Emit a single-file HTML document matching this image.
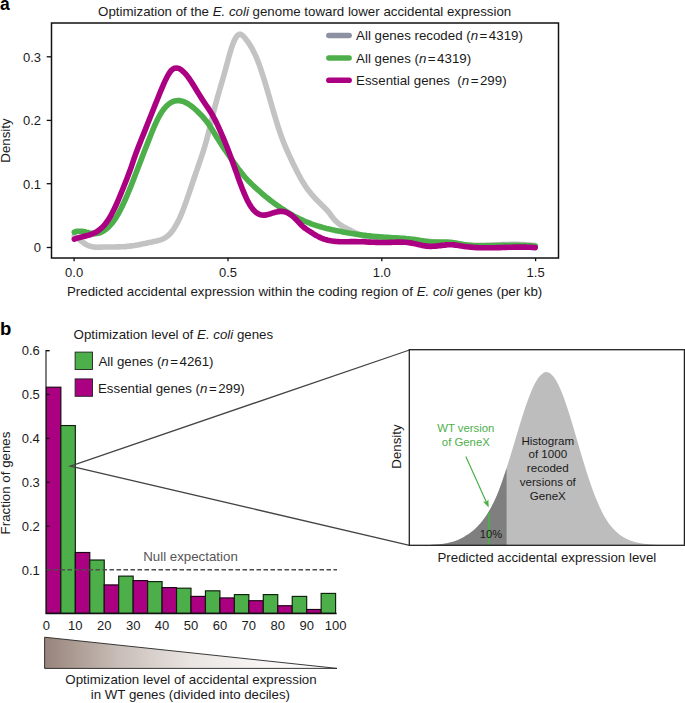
<!DOCTYPE html>
<html><head><meta charset="utf-8"><title>Figure</title>
<style>html,body{margin:0;padding:0;background:#fff;}body{width:685px;height:703px;position:relative;overflow:hidden;font-family:"Liberation Sans",sans-serif;}</style>
</head><body>
<svg width="685" height="703" viewBox="0 0 685 703" style="display:block;position:absolute;left:0;top:0">
<rect x="0" y="0" width="685" height="703" fill="#fff"/>
<g font-family="'Liberation Sans', sans-serif" font-size="13.3" fill="#1a1a1a">
<text x="0" y="9.7" font-size="17.5" font-weight="bold" fill="#000">a</text>
<text x="98.1" y="15.7">Optimization of the <tspan font-style="italic">E. coli</tspan> genome toward lower accidental expression</text>
<g fill="none" stroke-linecap="round" stroke-linejoin="round" stroke-width="5.6">
<path d="M74.3,236.0 L75.8,236.9 L77.3,238.0 L78.8,239.1 L80.3,240.3 L81.8,241.5 L83.3,242.6 L84.8,243.6 L86.3,244.6 L87.8,245.4 L89.3,246.0 L90.8,246.4 L92.3,246.8 L93.8,247.0 L95.3,247.1 L96.8,247.2 L98.3,247.2 L99.8,247.1 L101.3,247.1 L102.8,247.0 L104.3,247.0 L105.8,247.0 L107.3,247.0 L108.8,247.0 L110.3,247.0 L111.8,247.0 L113.3,247.0 L114.8,247.0 L116.3,246.9 L117.8,246.9 L119.3,246.9 L120.8,246.8 L122.3,246.8 L123.8,246.7 L125.3,246.6 L126.8,246.4 L128.3,246.3 L129.8,246.1 L131.3,245.9 L132.8,245.7 L134.3,245.5 L135.8,245.2 L137.3,245.0 L138.8,244.7 L140.3,244.4 L141.8,244.1 L143.3,243.8 L144.8,243.5 L146.3,243.2 L147.8,242.8 L149.3,242.5 L150.8,242.2 L152.3,241.9 L153.8,241.5 L155.3,241.2 L156.8,240.9 L158.3,240.5 L159.8,240.1 L161.3,239.6 L162.8,239.0 L164.3,238.2 L165.8,237.3 L167.3,236.2 L168.8,234.9 L170.3,233.4 L171.8,231.7 L173.3,229.6 L174.8,227.3 L176.3,224.8 L177.8,221.9 L179.3,218.9 L180.8,215.5 L182.3,211.9 L183.8,208.0 L185.3,203.9 L186.8,199.7 L188.3,195.4 L189.8,190.9 L191.3,186.5 L192.8,182.0 L194.3,177.5 L195.8,173.2 L197.3,168.8 L198.8,164.5 L200.3,160.2 L201.8,155.7 L203.3,151.1 L204.8,146.2 L206.3,141.1 L207.8,135.6 L209.3,129.8 L210.8,123.7 L212.3,117.4 L213.8,111.2 L215.3,105.3 L216.8,99.8 L218.3,94.4 L219.8,89.2 L221.3,84.1 L222.8,79.0 L224.3,73.7 L225.8,68.3 L227.3,62.7 L228.8,57.1 L230.3,51.8 L231.8,47.0 L233.3,42.9 L234.8,39.5 L236.3,36.9 L237.8,35.1 L239.3,34.3 L240.8,34.4 L242.3,35.3 L243.8,36.7 L245.3,38.5 L246.8,40.4 L248.3,42.4 L249.8,44.7 L251.3,47.2 L252.8,49.9 L254.3,52.9 L255.8,56.1 L257.3,59.7 L258.8,63.6 L260.3,67.8 L261.8,72.3 L263.3,76.9 L264.8,81.8 L266.3,86.8 L267.8,91.9 L269.3,97.0 L270.8,102.2 L272.3,107.5 L273.8,112.6 L275.3,117.7 L276.8,122.6 L278.3,127.4 L279.8,131.9 L281.3,136.2 L282.8,140.2 L284.3,144.0 L285.8,147.6 L287.3,151.1 L288.8,154.4 L290.3,157.7 L291.8,160.8 L293.3,164.0 L294.8,167.0 L296.3,170.0 L297.8,173.0 L299.3,175.8 L300.8,178.6 L302.3,181.2 L303.8,183.6 L305.3,186.0 L306.8,188.2 L308.3,190.2 L309.8,192.1 L311.3,194.0 L312.8,195.7 L314.3,197.4 L315.8,199.0 L317.3,200.5 L318.8,202.0 L320.3,203.5 L321.8,205.0 L323.3,206.4 L324.8,207.9 L326.3,209.4 L327.8,211.1 L329.3,212.9 L330.8,215.0 L332.3,217.1 L333.8,219.0 L335.3,220.6 L336.8,222.0 L338.3,223.3 L339.8,224.4 L341.3,225.5 L342.8,226.4 L344.3,227.2 L345.8,228.0 L347.3,228.8 L348.8,229.6 L350.3,230.3 L351.8,231.1 L353.3,231.8 L354.8,232.6 L356.3,233.3 L357.8,234.0 L359.3,234.6 L360.8,235.2 L362.3,235.8 L363.8,236.3 L365.3,236.8 L366.8,237.2 L368.3,237.5 L369.8,237.8 L371.3,238.0 L372.8,238.2 L374.3,238.4 L375.8,238.5 L377.3,238.6 L378.8,238.7 L380.3,238.8 L381.8,238.9 L383.3,239.0 L384.8,239.1 L386.3,239.2 L387.8,239.2 L389.3,239.3 L390.8,239.4 L392.3,239.5 L393.8,239.5 L395.3,239.6 L396.8,239.7 L398.3,239.7 L399.8,239.8 L401.3,239.9 L402.8,239.9 L404.3,240.0 L405.8,240.1 L407.3,240.1 L408.8,240.2 L410.3,240.3 L411.8,240.3 L413.3,240.4 L414.8,240.5 L416.3,240.6 L417.8,240.6 L419.3,240.7 L420.8,240.8 L422.3,240.9 L423.8,241.0 L425.3,241.1 L426.8,241.2 L428.3,241.3 L429.8,241.5 L431.3,241.6 L432.8,241.7 L434.3,241.9 L435.8,242.0 L437.3,242.2 L438.8,242.3 L440.3,242.5 L441.8,242.6 L443.3,242.8 L444.8,242.9 L446.3,243.1 L447.8,243.3 L449.3,243.4 L450.8,243.6 L452.3,243.7 L453.8,243.9 L455.3,244.0 L456.8,244.2 L458.3,244.3 L459.8,244.4 L461.3,244.6 L462.8,244.7 L464.3,244.8 L465.8,244.9 L467.3,245.0 L468.8,245.0 L470.3,245.1 L471.8,245.2 L473.3,245.2 L474.8,245.2 L476.3,245.2 L477.8,245.2 L479.3,245.2 L480.8,245.2 L482.3,245.2 L483.8,245.2 L485.3,245.2 L486.8,245.1 L488.3,245.1 L489.8,245.0 L491.3,245.0 L492.8,244.9 L494.3,244.9 L495.8,244.8 L497.3,244.8 L498.8,244.7 L500.3,244.7 L501.8,244.6 L503.3,244.6 L504.8,244.6 L506.3,244.5 L507.8,244.5 L509.3,244.5 L510.8,244.4 L512.3,244.4 L513.8,244.4 L515.3,244.4 L516.8,244.4 L518.3,244.4 L519.8,244.5 L521.3,244.5 L522.8,244.6 L524.3,244.6 L525.8,244.7 L527.3,244.8 L528.8,244.9 L530.3,245.0 L531.8,245.2 L533.3,245.3 L534.8,245.5 L535.2,245.5" stroke="#c3c3c3"/>
<path d="M74.3,232.2 L75.8,231.6 L77.3,231.3 L78.8,231.2 L80.3,231.2 L81.8,231.3 L83.3,231.5 L84.8,231.8 L86.3,232.2 L87.8,232.5 L89.3,232.9 L90.8,233.2 L92.3,233.4 L93.8,233.6 L95.3,233.6 L96.8,233.5 L98.3,233.2 L99.8,232.8 L101.3,232.2 L102.8,231.4 L104.3,230.5 L105.8,229.5 L107.3,228.2 L108.8,226.8 L110.3,225.2 L111.8,223.5 L113.3,221.5 L114.8,219.4 L116.3,217.1 L117.8,214.6 L119.3,211.9 L120.8,209.0 L122.3,206.0 L123.8,202.8 L125.3,199.5 L126.8,196.1 L128.3,192.5 L129.8,188.9 L131.3,185.2 L132.8,181.4 L134.3,177.5 L135.8,173.6 L137.3,169.7 L138.8,165.8 L140.3,161.9 L141.8,158.0 L143.3,154.1 L144.8,150.2 L146.3,146.4 L147.8,142.6 L149.3,138.8 L150.8,135.0 L152.3,131.3 L153.8,127.7 L155.3,124.2 L156.8,121.0 L158.3,117.9 L159.8,115.2 L161.3,112.7 L162.8,110.5 L164.3,108.5 L165.8,106.8 L167.3,105.3 L168.8,104.0 L170.3,102.9 L171.8,102.1 L173.3,101.4 L174.8,101.0 L176.3,100.7 L177.8,100.6 L179.3,100.6 L180.8,100.9 L182.3,101.2 L183.8,101.7 L185.3,102.4 L186.8,103.1 L188.3,104.0 L189.8,105.0 L191.3,106.1 L192.8,107.2 L194.3,108.5 L195.8,109.8 L197.3,111.2 L198.8,112.7 L200.3,114.2 L201.8,115.7 L203.3,117.4 L204.8,119.2 L206.3,121.0 L207.8,123.0 L209.3,125.2 L210.8,127.4 L212.3,129.8 L213.8,132.2 L215.3,134.7 L216.8,137.2 L218.3,139.6 L219.8,142.0 L221.3,144.3 L222.8,146.6 L224.3,148.8 L225.8,151.0 L227.3,153.2 L228.8,155.3 L230.3,157.5 L231.8,159.7 L233.3,161.8 L234.8,163.9 L236.3,166.0 L237.8,168.1 L239.3,170.1 L240.8,172.0 L242.3,173.9 L243.8,175.7 L245.3,177.5 L246.8,179.2 L248.3,180.8 L249.8,182.3 L251.3,183.8 L252.8,185.2 L254.3,186.6 L255.8,188.0 L257.3,189.4 L258.8,190.7 L260.3,192.0 L261.8,193.3 L263.3,194.6 L264.8,195.9 L266.3,197.1 L267.8,198.3 L269.3,199.5 L270.8,200.7 L272.3,201.8 L273.8,202.9 L275.3,204.0 L276.8,205.1 L278.3,206.2 L279.8,207.2 L281.3,208.3 L282.8,209.2 L284.3,210.2 L285.8,211.2 L287.3,212.1 L288.8,213.0 L290.3,213.9 L291.8,214.7 L293.3,215.6 L294.8,216.4 L296.3,217.2 L297.8,217.9 L299.3,218.7 L300.8,219.4 L302.3,220.1 L303.8,220.8 L305.3,221.4 L306.8,222.0 L308.3,222.6 L309.8,223.2 L311.3,223.8 L312.8,224.3 L314.3,224.8 L315.8,225.3 L317.3,225.8 L318.8,226.3 L320.3,226.7 L321.8,227.1 L323.3,227.6 L324.8,228.0 L326.3,228.4 L327.8,228.7 L329.3,229.1 L330.8,229.4 L332.3,229.8 L333.8,230.1 L335.3,230.4 L336.8,230.7 L338.3,231.0 L339.8,231.3 L341.3,231.6 L342.8,231.9 L344.3,232.2 L345.8,232.5 L347.3,232.7 L348.8,233.0 L350.3,233.2 L351.8,233.5 L353.3,233.7 L354.8,233.9 L356.3,234.2 L357.8,234.4 L359.3,234.6 L360.8,234.8 L362.3,235.0 L363.8,235.2 L365.3,235.4 L366.8,235.6 L368.3,235.7 L369.8,235.9 L371.3,236.1 L372.8,236.2 L374.3,236.4 L375.8,236.5 L377.3,236.6 L378.8,236.8 L380.3,236.9 L381.8,237.0 L383.3,237.1 L384.8,237.2 L386.3,237.3 L387.8,237.4 L389.3,237.5 L390.8,237.6 L392.3,237.7 L393.8,237.7 L395.3,237.8 L396.8,237.9 L398.3,238.0 L399.8,238.1 L401.3,238.2 L402.8,238.3 L404.3,238.4 L405.8,238.6 L407.3,238.7 L408.8,238.8 L410.3,239.0 L411.8,239.2 L413.3,239.4 L414.8,239.6 L416.3,239.8 L417.8,240.0 L419.3,240.3 L420.8,240.6 L422.3,240.8 L423.8,241.1 L425.3,241.3 L426.8,241.5 L428.3,241.7 L429.8,241.9 L431.3,242.0 L432.8,242.0 L434.3,242.1 L435.8,242.1 L437.3,242.1 L438.8,242.1 L440.3,242.0 L441.8,242.0 L443.3,242.0 L444.8,242.0 L446.3,242.0 L447.8,242.1 L449.3,242.2 L450.8,242.3 L452.3,242.5 L453.8,242.7 L455.3,243.0 L456.8,243.3 L458.3,243.6 L459.8,243.9 L461.3,244.1 L462.8,244.4 L464.3,244.7 L465.8,244.9 L467.3,245.1 L468.8,245.3 L470.3,245.4 L471.8,245.5 L473.3,245.7 L474.8,245.7 L476.3,245.8 L477.8,245.9 L479.3,245.9 L480.8,245.9 L482.3,245.9 L483.8,245.9 L485.3,245.9 L486.8,245.9 L488.3,245.9 L489.8,245.8 L491.3,245.8 L492.8,245.7 L494.3,245.7 L495.8,245.6 L497.3,245.6 L498.8,245.5 L500.3,245.5 L501.8,245.4 L503.3,245.4 L504.8,245.4 L506.3,245.3 L507.8,245.3 L509.3,245.3 L510.8,245.3 L512.3,245.3 L513.8,245.3 L515.3,245.3 L516.8,245.3 L518.3,245.4 L519.8,245.4 L521.3,245.5 L522.8,245.5 L524.3,245.6 L525.8,245.6 L527.3,245.7 L528.8,245.8 L530.3,245.8 L531.8,245.9 L533.3,246.0 L534.8,246.1 L535.2,246.2" stroke="#4daf4a"/>
<path d="M74.3,239.2 L75.8,238.7 L77.3,238.2 L78.8,237.7 L80.3,237.3 L81.8,236.9 L83.3,236.6 L84.8,236.2 L86.3,235.8 L87.8,235.4 L89.3,235.0 L90.8,234.5 L92.3,233.9 L93.8,233.2 L95.3,232.5 L96.8,231.6 L98.3,230.6 L99.8,229.5 L101.3,228.2 L102.8,226.8 L104.3,225.2 L105.8,223.3 L107.3,221.3 L108.8,219.0 L110.3,216.6 L111.8,213.8 L113.3,210.9 L114.8,207.8 L116.3,204.5 L117.8,201.1 L119.3,197.5 L120.8,193.9 L122.3,190.2 L123.8,186.5 L125.3,182.7 L126.8,179.0 L128.3,175.1 L129.8,171.1 L131.3,166.8 L132.8,162.3 L134.3,157.9 L135.8,153.8 L137.3,149.7 L138.8,145.9 L140.3,142.1 L141.8,138.3 L143.3,134.6 L144.8,130.9 L146.3,127.1 L147.8,123.3 L149.3,119.5 L150.8,115.8 L152.3,112.0 L153.8,108.2 L155.3,104.4 L156.8,100.7 L158.3,97.0 L159.8,93.3 L161.3,89.7 L162.8,86.1 L164.3,82.6 L165.8,79.4 L167.3,76.4 L168.8,73.8 L170.3,71.6 L171.8,69.9 L173.3,68.8 L174.8,68.2 L176.3,68.0 L177.8,68.2 L179.3,68.7 L180.8,69.6 L182.3,70.7 L183.8,72.1 L185.3,73.7 L186.8,75.4 L188.3,77.4 L189.8,79.5 L191.3,81.8 L192.8,84.1 L194.3,86.5 L195.8,89.0 L197.3,91.4 L198.8,93.9 L200.3,96.3 L201.8,98.7 L203.3,101.0 L204.8,103.3 L206.3,105.5 L207.8,107.7 L209.3,109.9 L210.8,112.3 L212.3,114.8 L213.8,117.5 L215.3,120.3 L216.8,123.4 L218.3,126.6 L219.8,129.9 L221.3,133.3 L222.8,136.8 L224.3,140.4 L225.8,144.0 L227.3,147.8 L228.8,151.7 L230.3,155.7 L231.8,159.8 L233.3,164.0 L234.8,168.2 L236.3,172.4 L237.8,176.7 L239.3,180.8 L240.8,184.8 L242.3,188.7 L243.8,192.4 L245.3,195.9 L246.8,199.2 L248.3,202.2 L249.8,204.8 L251.3,207.1 L252.8,209.1 L254.3,210.8 L255.8,212.2 L257.3,213.3 L258.8,214.1 L260.3,214.7 L261.8,215.0 L263.3,215.1 L264.8,215.1 L266.3,214.9 L267.8,214.5 L269.3,214.1 L270.8,213.7 L272.3,213.2 L273.8,212.7 L275.3,212.3 L276.8,211.9 L278.3,211.6 L279.8,211.4 L281.3,211.3 L282.8,211.4 L284.3,211.7 L285.8,212.1 L287.3,212.8 L288.8,213.6 L290.3,214.5 L291.8,215.6 L293.3,216.8 L294.8,218.2 L296.3,219.7 L297.8,221.3 L299.3,222.9 L300.8,224.5 L302.3,226.0 L303.8,227.3 L305.3,228.5 L306.8,229.5 L308.3,230.5 L309.8,231.5 L311.3,232.4 L312.8,233.4 L314.3,234.3 L315.8,235.3 L317.3,236.1 L318.8,236.9 L320.3,237.6 L321.8,238.3 L323.3,238.8 L324.8,239.4 L326.3,239.8 L327.8,240.2 L329.3,240.5 L330.8,240.8 L332.3,241.0 L333.8,241.2 L335.3,241.4 L336.8,241.5 L338.3,241.6 L339.8,241.7 L341.3,241.7 L342.8,241.7 L344.3,241.7 L345.8,241.7 L347.3,241.7 L348.8,241.7 L350.3,241.6 L351.8,241.6 L353.3,241.6 L354.8,241.6 L356.3,241.6 L357.8,241.7 L359.3,241.7 L360.8,241.7 L362.3,241.8 L363.8,241.8 L365.3,241.9 L366.8,242.0 L368.3,242.1 L369.8,242.1 L371.3,242.2 L372.8,242.3 L374.3,242.3 L375.8,242.4 L377.3,242.4 L378.8,242.5 L380.3,242.5 L381.8,242.5 L383.3,242.5 L384.8,242.5 L386.3,242.5 L387.8,242.5 L389.3,242.4 L390.8,242.4 L392.3,242.3 L393.8,242.2 L395.3,242.2 L396.8,242.1 L398.3,242.1 L399.8,242.1 L401.3,242.1 L402.8,242.1 L404.3,242.2 L405.8,242.3 L407.3,242.5 L408.8,242.6 L410.3,242.9 L411.8,243.1 L413.3,243.4 L414.8,243.8 L416.3,244.1 L417.8,244.4 L419.3,244.8 L420.8,245.1 L422.3,245.4 L423.8,245.7 L425.3,245.9 L426.8,246.1 L428.3,246.3 L429.8,246.4 L431.3,246.4 L432.8,246.3 L434.3,246.2 L435.8,246.1 L437.3,246.0 L438.8,245.8 L440.3,245.6 L441.8,245.4 L443.3,245.2 L444.8,245.1 L446.3,244.9 L447.8,244.8 L449.3,244.8 L450.8,244.8 L452.3,244.8 L453.8,244.9 L455.3,245.1 L456.8,245.3 L458.3,245.5 L459.8,245.8 L461.3,246.0 L462.8,246.2 L464.3,246.4 L465.8,246.7 L467.3,246.8 L468.8,247.0 L470.3,247.1 L471.8,247.3 L473.3,247.4 L474.8,247.5 L476.3,247.6 L477.8,247.6 L479.3,247.7 L480.8,247.7 L482.3,247.8 L483.8,247.8 L485.3,247.8 L486.8,247.8 L488.3,247.8 L489.8,247.8 L491.3,247.8 L492.8,247.8 L494.3,247.7 L495.8,247.7 L497.3,247.6 L498.8,247.6 L500.3,247.6 L501.8,247.5 L503.3,247.5 L504.8,247.4 L506.3,247.4 L507.8,247.3 L509.3,247.3 L510.8,247.2 L512.3,247.2 L513.8,247.1 L515.3,247.1 L516.8,247.1 L518.3,247.1 L519.8,247.1 L521.3,247.1 L522.8,247.1 L524.3,247.1 L525.8,247.1 L527.3,247.2 L528.8,247.2 L530.3,247.3 L531.8,247.4 L533.3,247.5 L534.8,247.6 L535.2,247.6" stroke="#ab0081"/>
</g>
<rect x="51.5" y="23" width="507" height="235" fill="none" stroke="#111" stroke-width="1.5"/>
<line x1="46.7" x2="51.5" y1="247.5" y2="247.5" stroke="#111" stroke-width="1.3"/>
<text x="41" y="252.4" font-size="13" text-anchor="end">0</text>
<line x1="46.7" x2="51.5" y1="183.7" y2="183.7" stroke="#111" stroke-width="1.3"/>
<text x="41" y="188.6" font-size="13" text-anchor="end">0.1</text>
<line x1="46.7" x2="51.5" y1="120.4" y2="120.4" stroke="#111" stroke-width="1.3"/>
<text x="41" y="125.3" font-size="13" text-anchor="end">0.2</text>
<line x1="46.7" x2="51.5" y1="56.8" y2="56.8" stroke="#111" stroke-width="1.3"/>
<text x="41" y="61.7" font-size="13" text-anchor="end">0.3</text>
<line y1="258" y2="261.2" x1="74.1" x2="74.1" stroke="#111" stroke-width="1.3"/>
<text x="74.1" y="277" font-size="13" text-anchor="middle">0.0</text>
<line y1="258" y2="261.2" x1="228" x2="228" stroke="#111" stroke-width="1.3"/>
<text x="228" y="277" font-size="13" text-anchor="middle">0.5</text>
<line y1="258" y2="261.2" x1="381.8" x2="381.8" stroke="#111" stroke-width="1.3"/>
<text x="381.8" y="277" font-size="13" text-anchor="middle">1.0</text>
<line y1="258" y2="261.2" x1="535.6" x2="535.6" stroke="#111" stroke-width="1.3"/>
<text x="535.6" y="277" font-size="13" text-anchor="middle">1.5</text>
<text transform="translate(9.9,140.5) rotate(-90)" text-anchor="middle">Density</text>
<text x="67" y="295.9">Predicted accidental expression within the coding region of <tspan font-style="italic">E. coli</tspan> genes (per kb)</text>
<line x1="328.9" x2="349.1" y1="35.5" y2="35.5" stroke="#8c90a0" stroke-width="5.6" stroke-linecap="round"/>
<line x1="328.9" x2="349.1" y1="58" y2="58" stroke="#4daf4a" stroke-width="5.6" stroke-linecap="round"/>
<line x1="328.9" x2="349.1" y1="80.2" y2="80.2" stroke="#ab0081" stroke-width="5.6" stroke-linecap="round"/>
<text x="356.1" y="40">All genes recoded (<tspan font-style="italic">n</tspan><tspan dx="1.5">=</tspan><tspan dx="1.5">4319)</tspan></text>
<text x="356.1" y="62.5">All genes (<tspan font-style="italic">n</tspan><tspan dx="1.5">=</tspan><tspan dx="1.5">4319)</tspan></text>
<text x="356.1" y="84.7">Essential genes&#160; (<tspan font-style="italic">n</tspan><tspan dx="1.5">=</tspan><tspan dx="1.5">299)</tspan></text>
<text x="0" y="335" font-size="18.5" font-weight="bold" fill="#000">b</text>
<text x="73.6" y="338.9">Optimization level of <tspan font-style="italic">E. coli</tspan> genes</text>
<rect x="46.40" y="387.21" width="14.46" height="226.09" fill="#ab0081" stroke="#1a0514" stroke-width="1.15"/>
<rect x="60.86" y="425.54" width="14.46" height="187.76" fill="#4daf4a" stroke="#0c1f0a" stroke-width="1.15"/>
<rect x="75.32" y="552.50" width="14.46" height="60.80" fill="#ab0081" stroke="#1a0514" stroke-width="1.15"/>
<rect x="89.78" y="560.01" width="14.46" height="53.29" fill="#4daf4a" stroke="#0c1f0a" stroke-width="1.15"/>
<rect x="104.24" y="584.90" width="14.46" height="28.40" fill="#ab0081" stroke="#1a0514" stroke-width="1.15"/>
<rect x="118.70" y="576.12" width="14.46" height="37.18" fill="#4daf4a" stroke="#0c1f0a" stroke-width="1.15"/>
<rect x="133.16" y="580.59" width="14.46" height="32.71" fill="#ab0081" stroke="#1a0514" stroke-width="1.15"/>
<rect x="147.62" y="581.60" width="14.46" height="31.70" fill="#4daf4a" stroke="#0c1f0a" stroke-width="1.15"/>
<rect x="162.08" y="587.62" width="14.46" height="25.68" fill="#ab0081" stroke="#1a0514" stroke-width="1.15"/>
<rect x="176.54" y="588.19" width="14.46" height="25.11" fill="#4daf4a" stroke="#0c1f0a" stroke-width="1.15"/>
<rect x="191.00" y="596.40" width="14.46" height="16.90" fill="#ab0081" stroke="#1a0514" stroke-width="1.15"/>
<rect x="205.46" y="590.82" width="14.46" height="22.48" fill="#4daf4a" stroke="#0c1f0a" stroke-width="1.15"/>
<rect x="219.92" y="597.93" width="14.46" height="15.37" fill="#ab0081" stroke="#1a0514" stroke-width="1.15"/>
<rect x="234.38" y="594.60" width="14.46" height="18.70" fill="#4daf4a" stroke="#0c1f0a" stroke-width="1.15"/>
<rect x="248.84" y="600.70" width="14.46" height="12.60" fill="#ab0081" stroke="#1a0514" stroke-width="1.15"/>
<rect x="263.30" y="594.60" width="14.46" height="18.70" fill="#4daf4a" stroke="#0c1f0a" stroke-width="1.15"/>
<rect x="277.76" y="605.71" width="14.46" height="7.59" fill="#ab0081" stroke="#1a0514" stroke-width="1.15"/>
<rect x="292.22" y="596.40" width="14.46" height="16.90" fill="#4daf4a" stroke="#0c1f0a" stroke-width="1.15"/>
<rect x="306.68" y="609.48" width="14.46" height="3.82" fill="#ab0081" stroke="#1a0514" stroke-width="1.15"/>
<rect x="321.14" y="593.41" width="14.46" height="19.89" fill="#4daf4a" stroke="#0c1f0a" stroke-width="1.15"/>
<path d="M49.5,350.6 H46 V613.3" fill="none" stroke="#222" stroke-width="1.15"/><line x1="45.5" x2="336.6" y1="613.4" y2="613.4" stroke="#111" stroke-width="1.5"/>
<line x1="46" x2="49.5" y1="350.6" y2="350.6" stroke="#111" stroke-width="1.2"/>
<text x="39.8" y="355.4" font-size="13" text-anchor="end">0.6</text>
<line x1="46" x2="49.5" y1="394.5" y2="394.5" stroke="#111" stroke-width="1.2"/>
<text x="39.8" y="399.3" font-size="13" text-anchor="end">0.5</text>
<line x1="46" x2="49.5" y1="438.4" y2="438.4" stroke="#111" stroke-width="1.2"/>
<text x="39.8" y="443.2" font-size="13" text-anchor="end">0.4</text>
<line x1="46" x2="49.5" y1="482.3" y2="482.3" stroke="#111" stroke-width="1.2"/>
<text x="39.8" y="487.1" font-size="13" text-anchor="end">0.3</text>
<line x1="46" x2="49.5" y1="526.2" y2="526.2" stroke="#111" stroke-width="1.2"/>
<text x="39.8" y="531" font-size="13" text-anchor="end">0.2</text>
<line x1="46" x2="49.5" y1="569.8" y2="569.8" stroke="#111" stroke-width="1.2"/>
<text x="39.8" y="574.6" font-size="13" text-anchor="end">0.1</text>
<text x="46.4" y="630" font-size="13" text-anchor="middle">0</text>
<text x="75.3" y="630" font-size="13" text-anchor="middle">10</text>
<text x="104.2" y="630" font-size="13" text-anchor="middle">20</text>
<text x="133.2" y="630" font-size="13" text-anchor="middle">30</text>
<text x="162.1" y="630" font-size="13" text-anchor="middle">40</text>
<text x="191.0" y="630" font-size="13" text-anchor="middle">50</text>
<text x="219.9" y="630" font-size="13" text-anchor="middle">60</text>
<text x="248.8" y="630" font-size="13" text-anchor="middle">70</text>
<text x="277.8" y="630" font-size="13" text-anchor="middle">80</text>
<text x="306.7" y="630" font-size="13" text-anchor="middle">90</text>
<text x="335.6" y="630" font-size="13" text-anchor="middle">100</text>
<text transform="translate(9.9,483) rotate(-90)" text-anchor="middle">Fraction of genes</text>
<line x1="46.5" x2="337" y1="569.7" y2="569.7" stroke="#4d4d4d" stroke-width="1.6" stroke-dasharray="4.5,2.5"/>
<text x="143.2" y="561" fill="#555">Null expectation</text>
<rect x="75.1" y="352.1" width="17.4" height="17.4" fill="#4daf4a" stroke="#222" stroke-width="0.9"/>
<rect x="75.1" y="378.9" width="17.4" height="17.4" fill="#ab0081" stroke="#222" stroke-width="0.9"/>
<text x="98.5" y="366.2">All genes (<tspan font-style="italic">n</tspan><tspan dx="1.5">=</tspan><tspan dx="1.5">4261)</tspan></text>
<text x="98" y="392.8">Essential genes (<tspan font-style="italic">n</tspan><tspan dx="1.5">=</tspan><tspan dx="1.5">299)</tspan></text>
<path d="M409.5,350 L70.4,466.1 L409.5,545.3" fill="none" stroke="#444" stroke-width="1.3" stroke-linejoin="miter"/>
<defs><linearGradient id="tg" x1="0" x2="1" y1="0" y2="0"><stop offset="0" stop-color="#97847a"/><stop offset="0.25" stop-color="#c8bdb7"/><stop offset="0.5" stop-color="#e9e4e1"/><stop offset="0.75" stop-color="#f8f6f5"/><stop offset="1" stop-color="#ffffff"/></linearGradient></defs>
<path d="M44.6,637.2 L337,668.4 L44.6,668.4 Z" fill="url(#tg)" stroke="#222" stroke-width="0.9"/>
<text x="191" y="684" text-anchor="middle">Optimization level of accidental expression</text>
<text x="190.4" y="699.3" text-anchor="middle">in WT genes (divided into deciles)</text>
<path d="M422,545.3 L422.0,545.1 L424.0,545.1 L426.0,545.0 L428.0,545.0 L430.0,544.9 L432.0,544.8 L434.0,544.7 L436.0,544.5 L438.0,544.4 L440.0,544.2 L442.0,544.0 L444.0,543.7 L446.0,543.4 L448.0,543.0 L450.0,542.6 L452.0,542.1 L454.0,541.5 L456.0,540.8 L458.0,540.0 L460.0,539.1 L462.0,538.1 L464.0,537.0 L466.0,535.6 L468.0,534.4 L470.0,533.0 L472.0,531.5 L474.0,529.9 L476.0,528.0 L478.0,526.0 L480.0,523.8 L482.0,521.4 L484.0,518.7 L486.0,515.9 L488.0,512.7 L490.0,509.4 L492.0,505.7 L494.0,501.8 L496.0,497.6 L498.0,492.8 L500.0,487.4 L502.0,481.9 L504.0,476.0 L506.0,469.9 L508.0,463.6 L510.0,457.2 L512.0,450.6 L514.0,443.9 L516.0,437.2 L518.0,430.6 L520.0,424.0 L522.0,417.6 L524.0,411.3 L526.0,405.3 L528.0,399.7 L530.0,394.4 L532.0,389.6 L534.0,385.3 L536.0,381.5 L538.0,378.3 L540.0,375.8 L542.0,373.9 L544.0,372.6 L546.0,372.1 L548.0,372.3 L550.0,373.2 L552.0,374.9 L554.0,377.2 L556.0,380.2 L558.0,383.9 L560.0,388.2 L562.0,393.0 L564.0,398.2 L566.0,403.9 L568.0,410.0 L570.0,416.3 L572.0,422.9 L574.0,429.6 L576.0,436.5 L578.0,443.3 L580.0,450.2 L582.0,456.9 L584.0,463.6 L586.0,470.0 L588.0,476.3 L590.0,482.2 L592.0,488.0 L594.0,493.4 L596.0,498.5 L598.0,503.3 L600.0,507.7 L602.0,511.9 L604.0,515.7 L606.0,519.1 L608.0,522.2 L610.0,524.9 L612.0,527.3 L614.0,529.5 L616.0,531.5 L618.0,533.3 L620.0,534.9 L622.0,536.3 L624.0,537.5 L626.0,538.6 L628.0,539.5 L630.0,540.4 L632.0,541.1 L634.0,541.7 L636.0,542.3 L638.0,542.7 L640.0,543.1 L642.0,543.5 L644.0,543.8 L646.0,544.0 L648.0,544.2 L650.0,544.4 L652.0,544.6 L654.0,544.7 L656.0,544.8 L658.0,544.9 L660.0,545.0 L660,545.3 Z" fill="#bdbdbd"/>
<path d="M422,545.3 L422.0,545.1 L424.0,545.1 L426.0,545.0 L428.0,545.0 L430.0,544.9 L432.0,544.8 L434.0,544.7 L436.0,544.5 L438.0,544.4 L440.0,544.2 L442.0,544.0 L444.0,543.7 L446.0,543.4 L448.0,543.0 L450.0,542.6 L452.0,542.1 L454.0,541.5 L456.0,540.8 L458.0,540.0 L460.0,539.1 L462.0,538.1 L464.0,537.0 L466.0,535.6 L468.0,534.4 L470.0,533.0 L472.0,531.5 L474.0,529.9 L476.0,528.0 L478.0,526.0 L480.0,523.8 L482.0,521.4 L484.0,518.7 L486.0,515.9 L488.0,512.7 L490.0,509.4 L492.0,505.7 L494.0,501.8 L496.0,497.6 L498.0,492.8 L500.0,487.4 L502.0,481.9 L504.0,476.0 L506.0,469.9 L506.6,468.0 L506.6,545.3 Z" fill="#7f7f7f"/>
<line x1="489" x2="489" y1="512.6" y2="545.3" stroke="#4daf4a" stroke-width="1.9"/>
<rect x="409.3" y="349.7" width="275.1" height="195.6" fill="none" stroke="#222" stroke-width="1.3"/>
<line x1="465.8" y1="456.5" x2="487" y2="503.5" stroke="#4daf4a" stroke-width="1.2"/>
<path d="M488.7,507.4 L482.9,501.6 L486.4,502.0 L488.4,499.6 Z" fill="#4daf4a"/>
<g font-size="11.6">
<text x="465.8" y="431.8" font-size="11.35" text-anchor="middle" fill="#4daf4a">WT version</text>
<text x="465.8" y="445.7" font-size="11.35" text-anchor="middle" fill="#4daf4a">of GeneX</text>
<text x="547.8" y="444.7" text-anchor="middle">Histogram</text>
<text x="547.8" y="458.4" text-anchor="middle">of 1000</text>
<text x="547.8" y="472.1" text-anchor="middle">recoded</text>
<text x="547.8" y="485.8" text-anchor="middle">versions of</text>
<text x="547.8" y="499.5" text-anchor="middle">GeneX</text>
<text x="479.7" y="537.8" font-size="11.2">10%</text>
</g>
<text transform="translate(401,446.5) rotate(-90)" text-anchor="middle">Density</text>
<text x="437.5" y="561.7">Predicted accidental expression level</text>
</g></svg>
</body></html>
